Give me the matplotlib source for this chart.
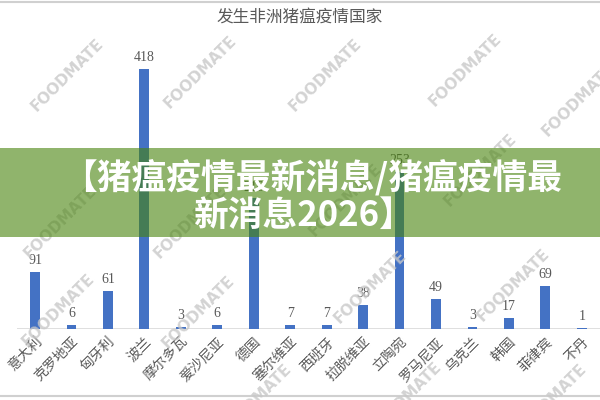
import matplotlib.pyplot as plt
import matplotlib.patches as patches
import matplotlib.lines as mlines

plt.rcParams['font.family'] = ['Noto Sans CJK SC', 'DejaVu Sans']

countries = ['意大利', '克罗地亚', '匈牙利', '波兰', '摩尔多瓦', '爱沙尼亚', '德国', '塞尔维亚',
             '西班牙', '拉脱维亚', '立陶宛', '罗马尼亚', '乌克兰', '韩国', '菲律宾', '不丹']
cases = [91, 6, 61, 418, 3, 6, 210, 7, 7, 38, 253, 49, 3, 17, 69, 1]

title = '发生非洲猪瘟疫情国家'
banner_line1 = '【猪瘟疫情最新消息/猪瘟疫情最'
banner_line2 = '新消息2026】'
watermark = 'FOODMATE'
# watermark centres in pixel coords (x, y from top)
wm_spots = [(67, 75), (200, 72), (325, 75), (465, 70), (578, 100),
            (60, 222), (190, 222), (345, 200), (480, 170),
            (58, 310), (198, 312), (370, 287), (513, 285),
            (255, 400), (405, 398), (550, 400)]

fig = plt.figure(figsize=(6, 4), dpi=100)
ax = fig.add_axes([0.028, 0.1775, 0.972, 0.7225])

x = range(len(countries))
ax.bar(x, cases, width=0.27, color='#4472c4', zorder=2)
for xi, v in zip(x, cases):
    ax.text(xi, v + 8, str(v), ha='center', va='bottom', fontsize=10,
            color='#595959', family='Liberation Serif')

ax.set_xlim(-0.5, len(countries) - 0.5)
ax.set_ylim(0, 465)
ax.axhline(0, color='#d9d9d9', linewidth=1.2, zorder=1)
ax.set_yticks([])
ax.set_xticks(list(x))
ax.set_xticklabels(countries, rotation=45, ha='right', rotation_mode='anchor',
                   fontsize=10, color='#595959')
ax.tick_params(axis='x', length=0, pad=4)
for s in ax.spines.values():
    s.set_visible(False)

fig.text(0.5, 0.957, title, ha='center', va='center', fontsize=12, color='#595959')

# thin frame lines at top and bottom
fig.add_artist(mlines.Line2D([0, 1], [0.995, 0.995], color='#d0d0d0', linewidth=1.5))
fig.add_artist(mlines.Line2D([0, 1], [0.01, 0.01], color='#d0d0d0', linewidth=1.5))

# watermarks
for px, py in wm_spots:
    fig.text(px / 600, 1 - py / 400, watermark, ha='center', va='center', rotation=45,
             fontsize=11, fontweight='bold', color='#c8c8c8', alpha=0.8,
             family='DejaVu Sans', zorder=5)

# green banner across the middle
fig.add_artist(patches.Rectangle((0, 0.4075), 1, 0.2225, transform=fig.transFigure,
                                 facecolor='#47830b', alpha=0.6, edgecolor='none', zorder=10))
fig.text(0.52, 0.555, banner_line1, ha='center', va='center', fontsize=25,
         fontweight='heavy', color='white', zorder=11)
fig.text(0.505, 0.462, banner_line2, ha='center', va='center', fontsize=25,
         fontweight='heavy', color='white', zorder=11)

fig.savefig('out.png', dpi=100)
